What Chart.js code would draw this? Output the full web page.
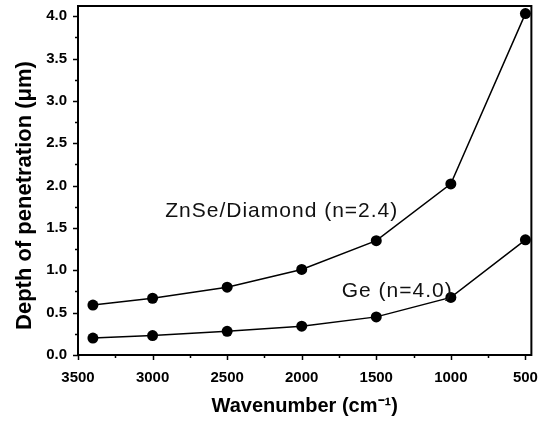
<!DOCTYPE html>
<html>
<head>
<meta charset="utf-8">
<script src="https://cdn.jsdelivr.net/npm/chart.js@4.4.1/dist/chart.umd.min.js"></script>
<style>
  html, body { margin: 0; padding: 0; background: #fff; }
  #wrap { width: 544px; height: 422px; }
</style>
</head>
<body>
<div id="wrap"><canvas id="chart"></canvas></div>
<script>
// Wavenumbers (cm-1) for both series
const wavenumbers = [3400, 3000, 2500, 2000, 1500, 1000, 500];
// Depth of penetration (um)
const znseDepth = [0.59, 0.67, 0.80, 1.01, 1.35, 2.02, 4.03];
const geDepth = [0.20, 0.23, 0.28, 0.34, 0.45, 0.68, 1.36];

// Axis ticks
const xTicks = [3500, 3000, 2500, 2000, 1500, 1000, 500];
const xMinorTicks = [3250, 2750, 2250, 1750, 1250, 750];
const yTicks = [0.0, 0.5, 1.0, 1.5, 2.0, 2.5, 3.0, 3.5, 4.0];
const yMinorTicks = [0.25, 0.75, 1.25, 1.75, 2.25, 2.75, 3.25, 3.75];

// Titles and in-plot labels
const xTitle = 'Wavenumber (cm\u207B\u00B9)';
const yTitle = 'Depth of penetration (\u03BCm)';
const seriesLabels = ['ZnSe/Diamond (n=2.4)', 'Ge (n=4.0)'];
const labelAnchors = [
  { x: 2915, y: 1.63 },
  { x: 1732, y: 0.69 },
];

const X_TICK_FONT = { family: "'Liberation Sans Narrow', 'Liberation Sans', Arial, sans-serif", size: 15, weight: 'bold' };
const Y_TICK_FONT = { family: "'Liberation Sans', Arial, sans-serif", size: 15, weight: 'bold' };
const TITLE_FONT = { family: "'Liberation Sans', Arial, sans-serif", size: 20, weight: 'bold' };

function toPoints(xs, ys) {
  return xs.map((x, i) => ({ x: x, y: ys[i] }));
}

/**
 * Draws the box frame, major/minor tick marks, y title and the series labels
 */
const framePlugin = {
  id: 'frame',
  afterDraw(chart) {
    const { ctx, chartArea: a, scales } = chart;
    const xs = scales.x, ys = scales.y;
    ctx.save();
    ctx.strokeStyle = '#000';
    ctx.lineWidth = 2;
    ctx.strokeRect(a.left, a.top, a.right - a.left, a.bottom - a.top);

    ctx.lineWidth = 1.5;
    ctx.beginPath();
    xTicks.forEach(v => {
      const px = Math.round(xs.getPixelForValue(v)) + 0.5;
      ctx.moveTo(px, a.bottom); ctx.lineTo(px, a.bottom + 5);
    });
    xMinorTicks.forEach(v => {
      const px = Math.round(xs.getPixelForValue(v)) + 0.5;
      ctx.moveTo(px, a.bottom); ctx.lineTo(px, a.bottom + 3);
    });
    yTicks.forEach(v => {
      const py = Math.round(ys.getPixelForValue(v)) + 0.5;
      ctx.moveTo(a.left, py); ctx.lineTo(a.left - 5, py);
    });
    yMinorTicks.forEach(v => {
      const py = Math.round(ys.getPixelForValue(v)) + 0.5;
      ctx.moveTo(a.left, py); ctx.lineTo(a.left - 3, py);
    });
    ctx.stroke();

    // y axis title, sits a little below the axis centre in the original
    ctx.save();
    ctx.fillStyle = '#000';
    ctx.font = "bold 22px 'Liberation Sans', Arial, sans-serif";
    ctx.textAlign = 'center';
    ctx.textBaseline = 'middle';
    ctx.translate(25, (a.top + a.bottom) / 2 + 15);
    ctx.rotate(-Math.PI / 2);
    ctx.fillText(yTitle, 0, 0);
    ctx.restore();

    ctx.fillStyle = '#111';
    ctx.font = "21px 'Liberation Sans', Arial, sans-serif";
    if ('letterSpacing' in ctx) ctx.letterSpacing = '1px';
    ctx.textAlign = 'left';
    ctx.textBaseline = 'alphabetic';
    seriesLabels.forEach((txt, i) => {
      const p = labelAnchors[i];
      ctx.fillText(txt, xs.getPixelForValue(p.x), ys.getPixelForValue(p.y));
    });
    ctx.restore();
  },
};

const seriesStyle = {
  borderColor: '#000',
  backgroundColor: '#000',
  borderWidth: 1.5,
  pointRadius: 5.5,
  pointHoverRadius: 5.5,
  pointBackgroundColor: '#000',
  pointBorderWidth: 0,
  showLine: true,
  tension: 0,
  fill: false,
};

new Chart(document.getElementById('chart'), {
  type: 'scatter',
  data: {
    datasets: [
      { label: seriesLabels[0], data: toPoints(wavenumbers, znseDepth), ...seriesStyle },
      { label: seriesLabels[1], data: toPoints(wavenumbers, geDepth), ...seriesStyle },
    ],
  },
  options: {
    responsive: true,
    maintainAspectRatio: false,
    animation: false,
    layout: {
      padding: { top: 0, right: 4, left: 0, bottom: 0 },
    },
    plugins: {
      legend: { display: false },
      tooltip: { enabled: false },
    },
    scales: {
      x: {
        type: 'linear',
        reverse: true,
        min: 460,
        max: 3500,
        afterBuildTicks: scale => { scale.ticks = xTicks.map(v => ({ value: v })); },
        afterFit: scale => { scale.height = 67; },
        grid: { display: false },
        border: { display: false },
        ticks: {
          color: '#000',
          font: X_TICK_FONT,
          padding: 6,
          maxRotation: 0,
          autoSkip: false,
          callback: v => String(v),
        },
        title: {
          display: true,
          text: xTitle,
          color: '#000',
          font: TITLE_FONT,
          padding: { top: 15 },
        },
      },
      y: {
        min: 0,
        max: 4.12,
        afterBuildTicks: scale => { scale.ticks = yTicks.map(v => ({ value: v })); },
        afterFit: scale => {
          scale.width = 78;
          scale.paddingTop = 6;
          scale.paddingBottom = 0;
        },
        grid: { display: false },
        border: { display: false },
        ticks: {
          color: '#000',
          font: Y_TICK_FONT,
          padding: 3,
          callback: v => v.toFixed(1),
        },
      },
    },
  },
  plugins: [framePlugin],
});
</script>
</body>
</html>
